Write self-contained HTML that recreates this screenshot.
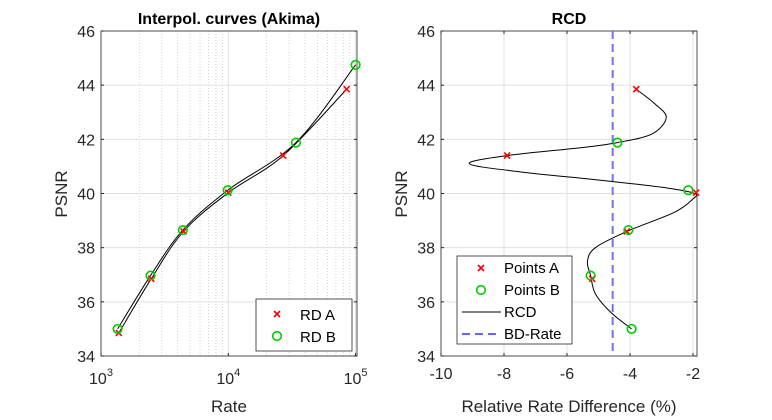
<!DOCTYPE html>
<html><head><meta charset="utf-8"><style>
body{margin:0;background:#fff}
svg{display:block;font-family:"Liberation Sans",Arial,sans-serif}
</style></head><body>
<svg id="c" width="772" height="420"></svg>
<script>
// ---- data ----
const psnrA=[34.85,36.85,38.6,40.03,41.4,43.85];
const rateA=[1380,2480,4450,10000,27000,85000];
const psnrB=[35.0,36.97,38.65,40.12,41.88,44.75];
const rateB=[1350,2450,4400,9900,34000,100000];
const diffA=[-5.2,-4.1,-1.9,-7.9,-3.8];
const diffApsnr=[36.85,38.6,40.03,41.4,43.85];
const diffB=[-3.95,-5.25,-4.05,-2.15,-4.4];
const diffBpsnr=[35.0,36.97,38.65,40.12,41.88];
const rcdPsnr=[35,35.6,36.3,36.97,37.5,38.0,38.6,39.3,39.8,40.0,40.2,40.5,40.8,41.1,41.4,41.7,41.88,42.2,42.8,43.3,43.85];
const rcdDiff=[-3.95,-4.6,-5.1,-5.25,-5.35,-5.1,-4.1,-2.6,-2.0,-1.95,-2.8,-5.0,-7.5,-9.1,-7.9,-5.5,-4.4,-3.3,-2.85,-3.2,-3.8];
const bdRate=-4.55;
const yTicks=[34,36,38,40,42,44,46];
const xTicksR=[-10,-8,-6,-4,-2];
const xTicksL=[3,4,5];

const NS="http://www.w3.org/2000/svg",svg=document.getElementById('c');
function el(t,a,p){const e=document.createElementNS(NS,t);for(const k in a)e.setAttribute(k,a[k]);(p||svg).appendChild(e);return e;}
function txt(s,a,p){const e=el('text',a,p);e.textContent=s;return e;}
const yT=31,yB=356;
const Y=v=>yB-(v-34)*(yB-yT)/12;
const lL=101,lR=357,XL=r=>lL+(Math.log10(r)-3)*127.3;
const rL=441,rR=697,XR=d=>rL+(d+10)*31.5;
const defs=el('defs',{});
const c1=el('clipPath',{id:'clipL'},defs);el('rect',{x:lL,y:yT,width:lR-lL,height:yB-yT},c1);
const c2=el('clipPath',{id:'clipR'},defs);el('rect',{x:rL,y:yT,width:rR-rL,height:yB-yT},c2);
function spline(pts){let d=`M${pts[0][0]},${pts[0][1]}`;for(let i=0;i<pts.length-1;i++){const p0=pts[Math.max(0,i-1)],p1=pts[i],p2=pts[i+1],p3=pts[Math.min(pts.length-1,i+2)];
d+=` C${p1[0]+(p2[0]-p0[0])/6},${p1[1]+(p2[1]-p0[1])/6} ${p2[0]-(p3[0]-p1[0])/6},${p2[1]-(p3[1]-p1[1])/6} ${p2[0]},${p2[1]}`;}return d;}
function cross(x,y,g,name){const e=el('path',{d:`M${x-3},${y-3}L${x+3},${y+3}M${x-3},${y+3}L${x+3},${y-3}`,stroke:'#f00','stroke-width':1.6,fill:'none'},g);}
function circ(x,y,g,name){const e=el('circle',{cx:x,cy:y,r:4.3,stroke:'#0c0','stroke-width':1.6,fill:'none'},g);}
const TF=16;

// ---- left panel ----
const gl=el('g',{});
for(let dec=3;dec<5;dec++)for(let m=2;m<=9;m++){const x=XL(m*Math.pow(10,dec));if(x<lR)el('line',{x1:x,x2:x,y1:yT,y2:yB,stroke:'#c8c8c8','stroke-dasharray':'1,2','stroke-width':0.8},gl);}
yTicks.forEach(v=>el('line',{x1:lL,x2:lR,y1:Y(v),y2:Y(v),stroke:'#e0e0e0'},gl));
xTicksL.forEach(t=>{const x=XL(Math.pow(10,t));el('line',{x1:x,x2:x,y1:yT,y2:yB,stroke:'#e0e0e0'},gl);});
el('rect',{x:lL,y:yT,width:lR-lL,height:yB-yT,fill:'none',stroke:'#262626','stroke-width':0.8},gl);
yTicks.forEach(v=>{el('line',{x1:lL,x2:lL+3,y1:Y(v),y2:Y(v),stroke:'#262626'},gl);el('line',{x1:lR-3,x2:lR,y1:Y(v),y2:Y(v),stroke:'#262626'},gl);
 const t=txt(v,{x:lL-6,y:Y(v)+6,'text-anchor':'end','font-size':TF,fill:'#262626'},gl);});
xTicksL.forEach(t=>{const x=XL(Math.pow(10,t));el('line',{x1:x,x2:x,y1:yB-3,y2:yB,stroke:'#262626'},gl);const e=el('text',{x:x,y:yB+28,'text-anchor':'middle','font-size':TF,fill:'#262626'},gl);e.innerHTML=`10<tspan dy="-8" font-size="11">${t}</tspan>`;});
const cl=el('g',{'clip-path':'url(#clipL)'},gl);
let p=el('path',{d:spline(rateA.map((r,i)=>[XL(r),Y(psnrA[i])])),stroke:'#000','stroke-width':1,fill:'none'},cl);
p=el('path',{d:spline(rateB.map((r,i)=>[XL(r),Y(psnrB[i])])),stroke:'#000','stroke-width':1,fill:'none'},cl);
rateA.forEach((r,i)=>cross(XL(r),Y(psnrA[i]),gl,'point-a'));
rateB.forEach((r,i)=>circ(XL(r),Y(psnrB[i]),gl,'point-b'));
txt('Interpol. curves (Akima)',{x:229,y:24,'text-anchor':'middle','font-size':16,'font-weight':'bold',fill:'#000',},gl);
txt('Rate',{x:229,y:412,'text-anchor':'middle','font-size':17,fill:'#262626',},gl);
txt('PSNR',{x:0,y:0,transform:'translate(67,194) rotate(-90)','text-anchor':'middle','font-size':17,fill:'#262626',},gl);
const lg=el('g',{},gl);
el('rect',{x:256,y:299,width:96,height:52,fill:'#fff',stroke:'#262626','stroke-width':0.8},lg);
cross(277,314,lg,'legend-marker-a');circ(277,336,lg,'legend-marker-b');
txt('RD A',{x:300,y:320,'font-size':15,fill:'#000'},lg);txt('RD B',{x:300,y:342,'font-size':15,fill:'#000'},lg);

// ---- right panel ----
const gr=el('g',{});
yTicks.forEach(v=>el('line',{x1:rL,x2:rR,y1:Y(v),y2:Y(v),stroke:'#e0e0e0'},gr));
xTicksR.forEach(v=>el('line',{x1:XR(v),x2:XR(v),y1:yT,y2:yB,stroke:'#e0e0e0'},gr));
el('rect',{x:rL,y:yT,width:rR-rL,height:yB-yT,fill:'none',stroke:'#262626','stroke-width':0.8},gr);
yTicks.forEach(v=>{el('line',{x1:rL,x2:rL+3,y1:Y(v),y2:Y(v),stroke:'#262626'},gr);el('line',{x1:rR-3,x2:rR,y1:Y(v),y2:Y(v),stroke:'#262626'},gr);
 txt(v,{x:rL-6,y:Y(v)+6,'text-anchor':'end','font-size':TF,fill:'#262626',},gr);});
xTicksR.forEach(v=>{el('line',{x1:XR(v),x2:XR(v),y1:yB-3,y2:yB,stroke:'#262626'},gr);el('line',{x1:XR(v),x2:XR(v),y1:yT,y2:yT+3,stroke:'#262626'},gr);
 txt(v,{x:XR(v),y:yB+23,'text-anchor':'middle','font-size':TF,fill:'#262626',},gr);});
el('line',{x1:XR(bdRate),x2:XR(bdRate),y1:yT,y2:yB,stroke:'#7070ff','stroke-width':2,'stroke-dasharray':'8,5',},gr);
const cr=el('g',{'clip-path':'url(#clipR)'},gr);
el('path',{d:spline(rcdPsnr.map((v,i)=>[XR(rcdDiff[i]),Y(v)])),stroke:'#000','stroke-width':1,fill:'none',},cr);
diffA.forEach((d,i)=>cross(XR(d),Y(diffApsnr[i]),gr,'rcd-point-a'));
diffB.forEach((d,i)=>circ(XR(d),Y(diffBpsnr[i]),gr,'rcd-point-b'));
txt('RCD',{x:569,y:24,'text-anchor':'middle','font-size':16,'font-weight':'bold',fill:'#000',},gr);
txt('Relative Rate Difference (%)',{x:569,y:412,'text-anchor':'middle','font-size':17,fill:'#262626',},gr);
txt('PSNR',{x:0,y:0,transform:'translate(407,194) rotate(-90)','text-anchor':'middle','font-size':17,fill:'#262626',},gr);
const lg2=el('g',{},gr);
el('rect',{x:457,y:256,width:115,height:88,fill:'#fff',stroke:'#262626','stroke-width':0.8},lg2);
cross(481,268,lg2,'legend-points-a');circ(481,290,lg2,'legend-points-b');
el('line',{x1:462,x2:501,y1:312,y2:312,stroke:'#000'},lg2);
el('line',{x1:462,x2:501,y1:334,y2:334,stroke:'#3333ff','stroke-width':1.5,'stroke-dasharray':'8,5'},lg2);
[['Points A',273],['Points B',295],['RCD',317],['BD-Rate',339]].forEach(a=>txt(a[0],{x:504,y:a[1],'font-size':15,fill:'#000'},lg2));
</script>
</body></html>
